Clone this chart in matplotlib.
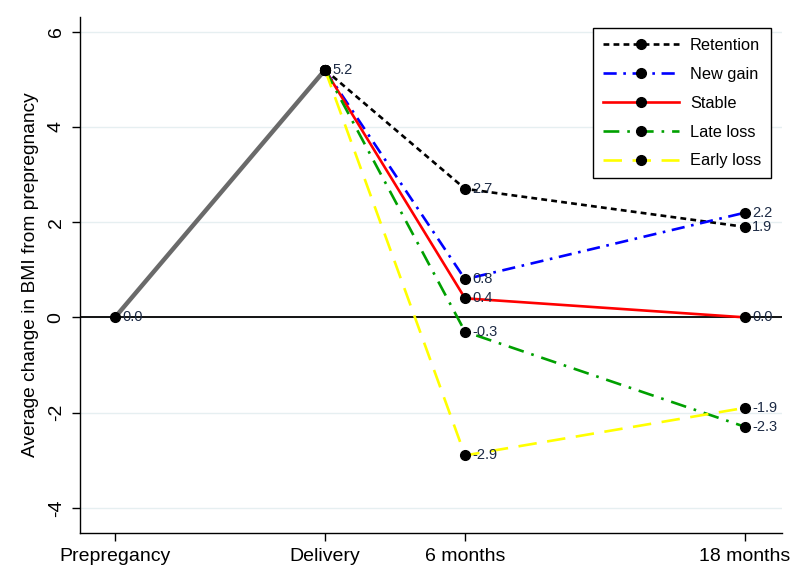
import matplotlib
matplotlib.use("Agg")
import matplotlib.pyplot as plt

plt.rcParams['font.family'] = ['Liberation Sans', 'DejaVu Sans']

time_points = [-9, 0, 6, 18]
time_labels = ["Prepregancy", "Delivery", "6 months", "18 months"]

base_x = [-9, 0]
base_y = [0.0, 5.2]

series_names = ["Retention", "New gain", "Stable", "Late loss", "Early loss"]
series_x = [0, 6, 18]
retention = [5.2, 2.7, 1.9]
new_gain = [5.2, 0.8, 2.2]
stable = [5.2, 0.4, 0.0]
late_loss = [5.2, -0.3, -2.3]
early_loss = [5.2, -2.9, -1.9]
series_values = [retention, new_gain, stable, late_loss, early_loss]

colors = ["#000000", "#0000ff", "#ff0000", "#00a000", "#ffff00"]
dashes = [(2.2, 1.6), (5, 2.5, 1, 2.5), (), (6, 3, 1, 3), (7, 4)]

fig = plt.figure(figsize=(8, 5.82), dpi=100)
ax = fig.add_axes([0.1, 0.085, 0.878, 0.885])

ax.set_xlim(-10.5, 19.6)
ax.set_ylim(-4.52, 6.3)

for yv in [-4, -2, 0, 2, 4, 6]:
    ax.axhline(yv, color="#e6eff1", lw=1.0, zorder=0)
ax.axhline(0, color="black", lw=1.3, zorder=1)

ax.plot(base_x, base_y, color="#6a6a6a", lw=3.2, zorder=2)
ax.plot(base_x, base_y, 'o', color="black", ms=7, zorder=5)

handles = []
for name, vals, c, d in zip(series_names, series_values, colors, dashes):
    ln, = ax.plot(series_x, vals, color=c, lw=1.9, marker='o', ms=7,
                  mfc='black', mec='black', label=name, zorder=3)
    if d:
        ln.set_dashes(d)
    handles.append(ln)

def lab(x, y):
    ax.annotate(f"{y:.1f}", (x, y), xytext=(5, 0), textcoords='offset points',
                va='center', ha='left', fontsize=10.5, color="#1c2a44", zorder=6)

lab(base_x[0], base_y[0])
lab(base_x[1], base_y[1])
for vals in series_values:
    lab(series_x[1], vals[1])
    lab(series_x[2], vals[2])

ax.set_xticks(time_points)
ax.set_xticklabels(time_labels, fontsize=14)
ax.set_yticks([-4, -2, 0, 2, 4, 6])
ax.set_yticklabels(["-4", "-2", "0", "2", "4", "6"], fontsize=14, rotation=90, va='center')
ax.tick_params(axis='both', length=6, width=1, direction='out', pad=5)
ax.set_ylabel("Average change in BMI from prepregnancy", fontsize=13.8, labelpad=6)

for s in ['top', 'right']:
    ax.spines[s].set_visible(False)
for s in ['left', 'bottom']:
    ax.spines[s].set_linewidth(1.0)

leg = fig.legend(handles=handles, loc='upper right', bbox_to_anchor=(0.964, 0.952),
                 borderaxespad=0, fontsize=11.8, handlelength=4.6, handletextpad=0.7,
                 borderpad=0.6, labelspacing=0.85, frameon=True, fancybox=False,
                 edgecolor='black', framealpha=1)
leg.get_frame().set_linewidth(1.0)

fig.savefig("out.png", dpi=100)
